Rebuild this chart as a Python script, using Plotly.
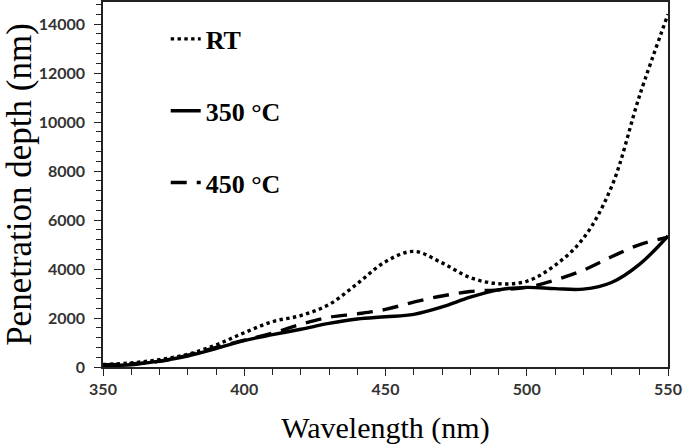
import plotly.graph_objects as go

wavelength = [350, 360, 370, 380, 390, 400, 410, 420, 430, 440, 450,
              460, 470, 480, 490, 500, 510, 520, 530, 540, 550]
rt = [100, 170, 300, 520, 900, 1400, 1850, 2100, 2550, 3400, 4300,
      4720, 4250, 3650, 3400, 3500, 4150, 5250, 7350, 11100, 14400]
c350 = [60, 90, 240, 450, 750, 1080, 1320, 1540, 1780, 1960, 2050,
        2150, 2450, 2850, 3150, 3250, 3200, 3180, 3450, 4200, 5350]
c450 = [90, 130, 230, 480, 800, 1100, 1380, 1740, 2030, 2170, 2350,
        2650, 2900, 3080, 3150, 3250, 3550, 3950, 4500, 5000, 5300]

names = ["RT", "350 °C", "450 °C"]

fig = go.Figure()
fig.add_trace(go.Scatter(x=wavelength, y=rt, name=names[0], mode="lines",
                         line=dict(color="black", width=3.4, dash="dot", shape="spline"),
                         legendgroup="a"))
fig.add_trace(go.Scatter(x=wavelength, y=c350, name=names[1], mode="lines",
                         line=dict(color="black", width=3.4, dash="solid", shape="spline"),
                         legendgroup="b"))
fig.add_trace(go.Scatter(x=wavelength, y=c450, name=names[2], mode="lines",
                         line=dict(color="black", width=3.4, dash="16px,10px", shape="spline"),
                         legendgroup="c"))

tickfont = dict(family="Lato", size=16, color="#333333", weight="bold")

fig.update_layout(
    width=685, height=448,
    margin=dict(l=103, r=17, t=2, b=81, autoexpand=False),
    paper_bgcolor="white", plot_bgcolor="white",
    showlegend=True,
    legend=dict(x=0.111, y=0.963, xanchor="left", yanchor="top",
                font=dict(family="Liberation Serif", size=26, color="black", weight="bold"),
                bgcolor="rgba(0,0,0,0)", traceorder="grouped", tracegroupgap=35,
                itemwidth=30),
    xaxis=dict(range=[350, 550], dtick=50, tick0=350, showgrid=False, zeroline=False,
               showline=True, linecolor="#222", linewidth=1.5, mirror=True,
               ticks="outside", ticklen=7, tickcolor="#222", tickwidth=1,
               minor=dict(dtick=10, ticks="outside", ticklen=6, tickcolor="#222"),
               tickfont=tickfont, tickformat="d", automargin=False,
               title=dict(text="Wavelength (nm)", standoff=20,
                          font=dict(family="Liberation Serif", size=30, color="black"))),
    yaxis=dict(range=[0, 14900], dtick=2000, tick0=0, showgrid=False, zeroline=False,
               showline=True, linecolor="#222", linewidth=1.5, mirror=True,
               ticks="outside", ticklen=7, tickcolor="#222", tickwidth=1,
               minor=dict(dtick=400, ticks="outside", ticklen=5, tickcolor="#222"),
               tickfont=tickfont, ticklabelstandoff=6, tickformat="d", automargin=False,
               title=dict(text="Penetration depth (nm)", standoff=10,
                          font=dict(family="Liberation Serif", size=35, color="black"))),
)

fig.write_html("out.html", config={"displayModeBar": False},
               post_script="document.body.style.margin='0';document.body.style.overflow='hidden';")
